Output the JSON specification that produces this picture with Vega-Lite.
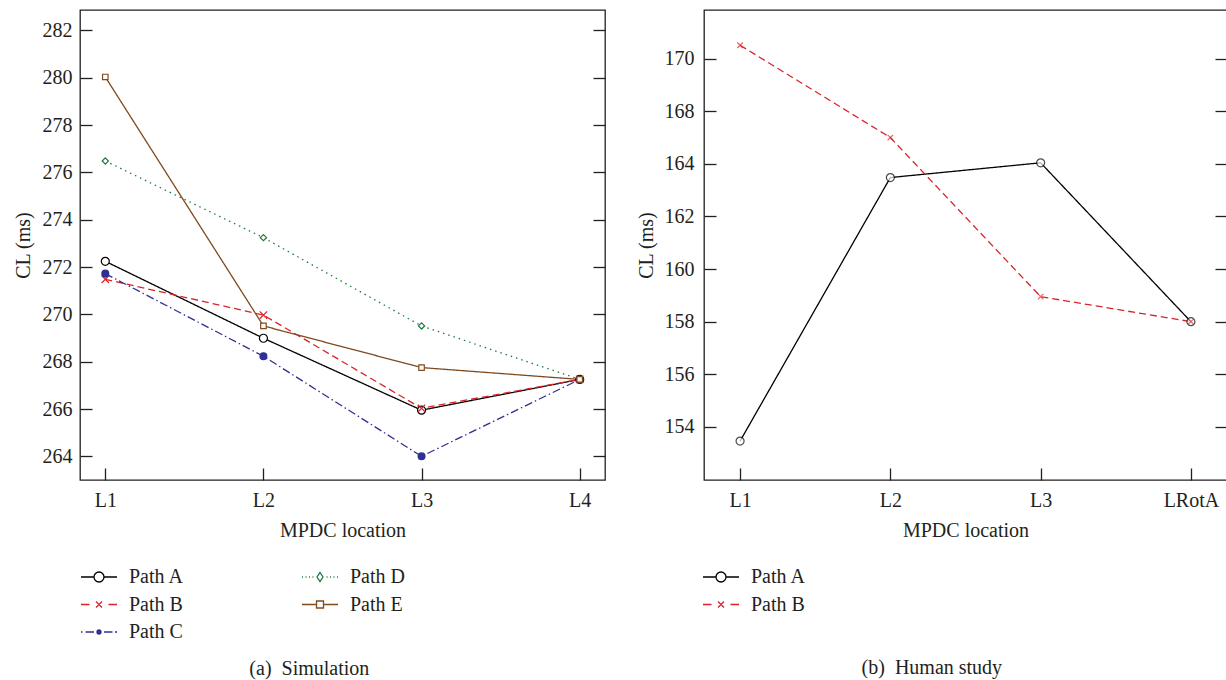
{
  "$schema": "https://vega.github.io/schema/vega-lite/v6.json",
  "padding": {"left": 12, "top": 9, "right": 0, "bottom": 6},
  "background": "white",
  "config": {
    "font": "Liberation Serif",
    "view": {"stroke": "#231f20", "strokeWidth": 1.3},
    "axis": {
      "labelFont": "Liberation Serif", "labelFontSize": 20, "labelColor": "#231f20",
      "titleFont": "Liberation Serif", "titleFontSize": 20, "titleFontWeight": "normal", "titleColor": "#231f20",
      "tickColor": "#231f20", "tickSize": -12, "tickWidth": 1.3, "domain": false, "grid": false
    },
    "legend": {
      "labelFont": "Liberation Serif", "labelFontSize": 20, "labelColor": "#231f20",
      "symbolStrokeWidth": 1.3, "symbolSize": 400
    },
    "title": {"font": "Liberation Serif", "fontSize": 20, "fontWeight": "normal", "color": "#231f20"}
  },
  "datasets": {
    "sim": [
      {"path": "Path A", "loc": "L1", "cl": 272.24},
      {"path": "Path A", "loc": "L2", "cl": 268.99},
      {"path": "Path A", "loc": "L3", "cl": 265.95},
      {"path": "Path A", "loc": "L4", "cl": 267.25},
      {"path": "Path B", "loc": "L1", "cl": 271.48},
      {"path": "Path B", "loc": "L2", "cl": 269.97},
      {"path": "Path B", "loc": "L3", "cl": 266.03},
      {"path": "Path B", "loc": "L4", "cl": 267.25},
      {"path": "Path C", "loc": "L1", "cl": 271.72},
      {"path": "Path C", "loc": "L2", "cl": 268.23},
      {"path": "Path C", "loc": "L3", "cl": 264.0},
      {"path": "Path C", "loc": "L4", "cl": 267.25},
      {"path": "Path D", "loc": "L1", "cl": 276.48},
      {"path": "Path D", "loc": "L2", "cl": 273.24},
      {"path": "Path D", "loc": "L3", "cl": 269.51},
      {"path": "Path D", "loc": "L4", "cl": 267.25},
      {"path": "Path E", "loc": "L1", "cl": 280.03},
      {"path": "Path E", "loc": "L2", "cl": 269.51},
      {"path": "Path E", "loc": "L3", "cl": 267.75},
      {"path": "Path E", "loc": "L4", "cl": 267.25}
    ],
    "human": [
      {"path": "Path A", "loc": "L1", "cl": 153.46},
      {"path": "Path A", "loc": "L2", "cl": 163.48},
      {"path": "Path A", "loc": "L3", "cl": 164.04},
      {"path": "Path A", "loc": "LRotA", "cl": 158.0},
      {"path": "Path B", "loc": "L1", "cl": 168.51},
      {"path": "Path B", "loc": "L2", "cl": 165.0},
      {"path": "Path B", "loc": "L3", "cl": 158.95},
      {"path": "Path B", "loc": "LRotA", "cl": 158.0}
    ]
  },
  "hconcat": [
    {
      "width": 525, "height": 470,
      "data": {"name": "sim"},
      "title": {"text": "(a)\u00a0\u00a0Simulation", "orient": "bottom", "frame": "bounds", "anchor": "middle", "offset": 17},
      "resolve": {"scale": {"color": "independent", "shape": "independent", "stroke": "independent", "fill": "independent", "size": "independent", "strokeDash": "independent"}, "axis": {"y": "independent"}},
      "encoding": {
        "x": {"field": "loc", "type": "ordinal", "title": "MPDC location",
          "scale": {"type": "point", "padding": 0.16},
          "axis": {"labelAngle": 0, "labelPadding": 22, "titlePadding": 10}},
        "y": {"field": "cl", "type": "quantitative", "title": "CL (ms)",
          "scale": {"domain": [263, 282.86], "nice": false, "zero": false}}
      },
      "layer": [
        {
          "mark": {"type": "line", "strokeWidth": 1.3},
          "encoding": {
            "y": {"field": "cl", "type": "quantitative", "title": "CL (ms)",
              "axis": {"values": [264, 266, 268, 270, 272, 274, 276, 278, 280, 282], "labelPadding": 20, "titlePadding": 9}},
            "color": {"field": "path", "type": "nominal", "legend": null,
              "scale": {"domain": ["Path A", "Path B", "Path C", "Path D", "Path E"], "range": ["#000000", "#d9232a", "#2e3192", "#1f7a3c", "#7f4a1e"]}},
            "strokeDash": {"field": "path", "type": "nominal", "legend": null,
              "scale": {"domain": ["Path A", "Path B", "Path C", "Path D", "Path E"], "range": [[1, 0], [7, 4], [8, 3, 1.5, 3], [1.5, 4], [1, 0]]}}
          }
        },
        {
          "mark": {"type": "point", "filled": true, "strokeWidth": 1.2, "opacity": 1},
          "encoding": {
            "y": {"field": "cl", "type": "quantitative", "axis": null},
            "shape": {"field": "path", "type": "nominal", "legend": null,
              "scale": {"domain": ["Path A", "Path B", "Path C", "Path D", "Path E"], "range": ["circle", "M-1,-1L1,1M-1,1L1,-1", "circle", "diamond", "square"]}},
            "stroke": {"field": "path", "type": "nominal", "legend": null,
              "scale": {"domain": ["Path A", "Path B", "Path C", "Path D", "Path E"], "range": ["#000000", "#d9232a", "#2e3192", "#1f7a3c", "#7f4a1e"]}},
            "fill": {"field": "path", "type": "nominal", "legend": null,
              "scale": {"domain": ["Path A", "Path B", "Path C", "Path D", "Path E"], "range": ["white", "white", "#2e3192", "white", "white"]}},
            "size": {"field": "path", "type": "nominal", "legend": null,
              "scale": {"domain": ["Path A", "Path B", "Path C", "Path D", "Path E"], "range": [64, 30, 30, 45, 36]}}
          }
        },
        {
          "mark": {"type": "point", "filled": false, "opacity": 0},
          "encoding": {
            "y": {"field": "cl", "type": "quantitative",
              "axis": {"orient": "right", "labels": false, "title": null, "values": [264, 266, 268, 270, 272, 274, 276, 278, 280, 282]}},
            "color": {"field": "path", "type": "nominal",
              "scale": {"domain": ["Path A", "Path B", "Path C", "Path D", "Path E"], "range": ["#000000", "#d9232a", "#2e3192", "#1f7a3c", "#7f4a1e"]},
              "legend": {"title": null, "orient": "none", "legendX": 8, "legendY": 556, "direction": "vertical", "columns": 2, "columnPadding": 115, "rowPadding": 6.5, "labelOffset": 19, "symbolSize": 400, "symbolStrokeWidth": 1.3}},
            "shape": {"field": "path", "type": "nominal",
              "scale": {"domain": ["Path A", "Path B", "Path C", "Path D", "Path E"], "range": [
                "M-1.8,0H-0.5M0.5,0H1.8M-0.5,0A0.5,0.5,0,1,1,0.5,0A0.5,0.5,0,1,1,-0.5,0",
                "M-1.8,0H-0.95M0.95,0H1.8M-0.3,-0.3L0.3,0.3M-0.3,0.3L0.3,-0.3",
                "M-1.8,0H-1.65M-1.35,0H-0.5M0.5,0H1.35M1.6,0H1.8M-0.2,0A0.2,0.2,0,1,1,0.2,0A0.2,0.2,0,1,1,-0.2,0M-0.08,0A0.08,0.08,0,1,1,0.08,0A0.08,0.08,0,1,1,-0.08,0",
                "M-1.8,0H-1.7M-1.45,0H-1.35M-1.1,0H-1.0M-0.75,0H-0.65M0.65,0H0.75M1.0,0H1.1M1.35,0H1.45M1.7,0H1.8M0,-0.45L0.3,0L0,0.45L-0.3,0Z",
                "M-1.8,0H-0.35M0.35,0H1.8M-0.35,-0.35H0.35V0.35H-0.35Z"
              ]},
              "legend": {"title": null, "orient": "none", "legendX": 8, "legendY": 556, "direction": "vertical", "columns": 2, "columnPadding": 115, "rowPadding": 6.5, "labelOffset": 19, "symbolSize": 400, "symbolStrokeWidth": 1.3}}
          }
        }
      ]
    },
    {
      "width": 523, "height": 470,
      "data": {"name": "human"},
      "title": {"text": "(b)\u00a0\u00a0Human study", "orient": "bottom", "frame": "bounds", "anchor": "middle", "offset": 43},
      "resolve": {"scale": {"color": "independent", "shape": "independent", "stroke": "independent", "fill": "independent", "size": "independent", "strokeDash": "independent"}, "axis": {"y": "independent"}},
      "encoding": {
        "x": {"field": "loc", "type": "ordinal", "title": "MPDC location",
          "scale": {"type": "point", "padding": 0.24},
          "axis": {"labelAngle": 0, "labelPadding": 22, "titlePadding": 10}},
        "y": {"field": "cl", "type": "quantitative", "title": "CL (ms)",
          "scale": {"domain": [151.98, 169.85], "nice": false, "zero": false}}
      },
      "layer": [
        {
          "mark": {"type": "line", "strokeWidth": 1.3},
          "encoding": {
            "y": {"field": "cl", "type": "quantitative", "title": "CL (ms)",
              "axis": {"values": [154, 156, 158, 160, 162, 164, 166, 168], "labelPadding": 22, "titlePadding": 8,
                "labelExpr": "datum.value >= 166 ? format(datum.value + 2, 'd') : datum.label"}},
            "color": {"field": "path", "type": "nominal", "legend": null,
              "scale": {"domain": ["Path A", "Path B"], "range": ["#000000", "#d9232a"]}},
            "strokeDash": {"field": "path", "type": "nominal", "legend": null,
              "scale": {"domain": ["Path A", "Path B"], "range": [[1, 0], [7, 4]]}}
          }
        },
        {
          "mark": {"type": "point", "filled": true, "strokeWidth": 1.2},
          "encoding": {
            "y": {"field": "cl", "type": "quantitative", "axis": null},
            "shape": {"field": "path", "type": "nominal", "legend": null,
              "scale": {"domain": ["Path A", "Path B"], "range": ["circle", "M-1,-1L1,1M-1,1L1,-1"]}},
            "stroke": {"field": "path", "type": "nominal", "legend": null,
              "scale": {"domain": ["Path A", "Path B"], "range": ["#000000", "#d9232a"]}},
            "fill": {"field": "path", "type": "nominal", "legend": null,
              "scale": {"domain": ["Path A", "Path B"], "range": ["white", "white"]}},
            "size": {"field": "path", "type": "nominal", "legend": null,
              "scale": {"domain": ["Path A", "Path B"], "range": [64, 30]}}
          }
        },
        {
          "mark": {"type": "point", "filled": false, "opacity": 0},
          "encoding": {
            "y": {"field": "cl", "type": "quantitative",
              "axis": {"orient": "right", "labels": false, "title": null, "values": [154, 156, 158, 160, 162, 164, 166, 168]}},
            "color": {"field": "path", "type": "nominal",
              "scale": {"domain": ["Path A", "Path B"], "range": ["#000000", "#d9232a"]},
              "legend": {"title": null, "orient": "none", "legendX": 6, "legendY": 556, "direction": "vertical", "rowPadding": 6.5, "labelOffset": 19, "symbolSize": 400, "symbolStrokeWidth": 1.3}},
            "shape": {"field": "path", "type": "nominal",
              "scale": {"domain": ["Path A", "Path B"], "range": [
                "M-1.8,0H-0.5M0.5,0H1.8M-0.5,0A0.5,0.5,0,1,1,0.5,0A0.5,0.5,0,1,1,-0.5,0",
                "M-1.8,0H-0.95M0.95,0H1.8M-0.3,-0.3L0.3,0.3M-0.3,0.3L0.3,-0.3"
              ]},
              "legend": {"title": null, "orient": "none", "legendX": 6, "legendY": 556, "direction": "vertical", "rowPadding": 6.5, "labelOffset": 19, "symbolSize": 400, "symbolStrokeWidth": 1.3}}
          }
        }
      ]
    }
  ],
  "spacing": 28
}
